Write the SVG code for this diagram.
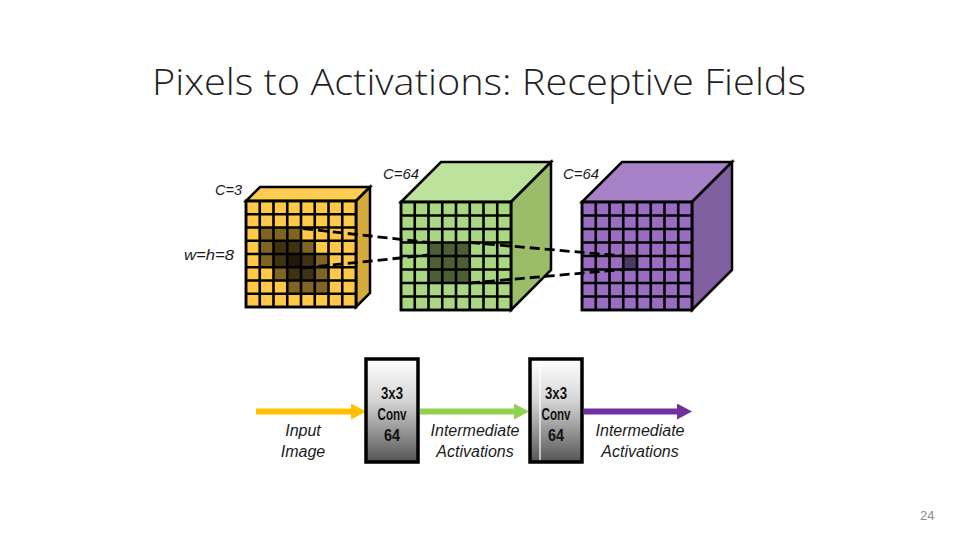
<svg xmlns="http://www.w3.org/2000/svg" width="960" height="540" viewBox="0 0 960 540">
<style>
.title{font-family:"Open Sans","Liberation Sans",Arial,sans-serif;font-weight:300;font-size:36px;fill:#1f1f1f}
.lbl{font-family:"Liberation Sans",Arial,sans-serif;font-style:italic;font-size:16px;fill:#1a1a1a;text-anchor:middle}
.dim{font-family:"Liberation Sans",Arial,sans-serif;font-style:italic;font-size:15px;fill:#1a1a1a}
.conv{font-family:"Liberation Sans",Arial,sans-serif;font-weight:bold;font-size:17px;fill:#111;text-anchor:middle}
.edge{stroke:#000;stroke-width:2.5;stroke-linejoin:miter}
.grid{stroke:#000;stroke-width:2.6;fill:none}
.dash{stroke:#000;stroke-width:2.8;stroke-dasharray:10 5;fill:none}
.box{stroke:#000;stroke-width:3.5;fill:url(#grad)}
.page{font-family:"Liberation Sans",Arial,sans-serif;font-size:13px;fill:#8c8c8c}
</style>
<defs>
<linearGradient id="grad" x1="0" y1="0" x2="0" y2="1">
<stop offset="0" stop-color="#ffffff"/>
<stop offset="0.4" stop-color="#d6d6d6"/>
<stop offset="1" stop-color="#555555"/>
</linearGradient>
<marker id="ahY" markerUnits="userSpaceOnUse" markerWidth="15" markerHeight="16" viewBox="0 0 15 16" refX="0" refY="8" orient="auto"><path d="M0,0 L15,8 L0,16 Z" fill="#FFC000"/></marker>
<marker id="ahG" markerUnits="userSpaceOnUse" markerWidth="15" markerHeight="16" viewBox="0 0 15 16" refX="0" refY="8" orient="auto"><path d="M0,0 L15,8 L0,16 Z" fill="#92D050"/></marker>
<marker id="ahP" markerUnits="userSpaceOnUse" markerWidth="15" markerHeight="16" viewBox="0 0 15 16" refX="0" refY="8" orient="auto"><path d="M0,0 L15,8 L0,16 Z" fill="#7030A0"/></marker>
</defs>
<rect width="960" height="540" fill="#ffffff"/>
<text class="title" x="152" y="95" textLength="654" lengthAdjust="spacingAndGlyphs">Pixels to Activations: Receptive Fields</text>

<g id="cube-input">
<polygon class="edge" points="246,201 260,187 370,187 356,201" fill="#FCCB52"/>
<polygon class="edge" points="356,201 370,187 370,293 356,307" fill="#D7AA3E"/>
<rect class="edge" x="246" y="201" width="110" height="106" fill="#FFC947"/>
<g fill="#000" fill-opacity="0.5">
<rect x="259.75" y="227.5" width="41.25" height="39.75"/>
<rect x="273.5" y="240.75" width="41.25" height="39.75"/>
<rect x="287.25" y="254" width="41.25" height="39.75"/>
</g>
<path class="grid" d="M259.75,201V307M273.5,201V307M287.25,201V307M301,201V307M314.75,201V307M328.5,201V307M342.25,201V307M246,214.25H356M246,227.5H356M246,240.75H356M246,254H356M246,267.25H356M246,280.5H356M246,293.75H356"/>
<rect x="246" y="201" width="110" height="106" fill="none" stroke="#000" stroke-width="2.5"/>
<text class="dim" x="215" y="195" textLength="27" lengthAdjust="spacingAndGlyphs">C=3</text>
<text class="dim" x="184" y="260" textLength="50" lengthAdjust="spacingAndGlyphs">w=h=8</text>
</g>

<g id="cube-act1">
<polygon class="edge" points="401,202 441,162 551,162 511,202" fill="#BDE29B"/>
<polygon class="edge" points="511,202 551,162 551,270 511,310" fill="#9BBD6A"/>
<rect class="edge" x="401" y="202" width="110" height="108" fill="#AAD781"/>
<rect x="428.5" y="242.5" width="41.25" height="40.5" fill="#4C5E33"/>
<path class="grid" d="M414.75,202V310M428.5,202V310M442.25,202V310M456,202V310M469.75,202V310M483.5,202V310M497.25,202V310M401,215.5H511M401,229H511M401,242.5H511M401,256H511M401,269.5H511M401,283H511M401,296.5H511"/>
<rect x="401" y="202" width="110" height="108" fill="none" stroke="#000" stroke-width="2.5"/>
<text class="dim" x="383" y="179" textLength="36" lengthAdjust="spacingAndGlyphs">C=64</text>
</g>

<g id="cube-act2">
<polygon class="edge" points="582,202 622,162 732,162 692,202" fill="#A882C9"/>
<polygon class="edge" points="692,202 732,162 732,270 692,310" fill="#8060A0"/>
<rect class="edge" x="582" y="202" width="110" height="108" fill="#9A6CC2"/>
<rect x="623.25" y="256" width="13.75" height="13.5" fill="#4A3A62"/>
<path class="grid" d="M595.75,202V310M609.5,202V310M623.25,202V310M637,202V310M650.75,202V310M664.5,202V310M678.25,202V310M582,215.5H692M582,229H692M582,242.5H692M582,256H692M582,269.5H692M582,283H692M582,296.5H692"/>
<rect x="582" y="202" width="110" height="108" fill="none" stroke="#000" stroke-width="2.5"/>
<text class="dim" x="563" y="179" textLength="36" lengthAdjust="spacingAndGlyphs">C=64</text>
</g>

<g id="connectors">
<path class="dash" d="M303,228.5 L428.5,242.5"/>
<path class="dash" d="M303,268 L429,255"/>
<path class="dash" d="M470,242.5 L623.25,256"/>
<path class="dash" d="M470,283 L623.25,269.5"/>
<line x1="256" y1="411.5" x2="351" y2="411.5" stroke="#FFC000" stroke-width="6" marker-end="url(#ahY)"/>
<line x1="420" y1="411.5" x2="514" y2="411.5" stroke="#92D050" stroke-width="6" marker-end="url(#ahG)"/>
<line x1="584" y1="411.5" x2="677" y2="411.5" stroke="#7030A0" stroke-width="6" marker-end="url(#ahP)"/>
</g>

<g id="conv1">
<rect class="box" x="366" y="359" width="52" height="103"/>
<text class="conv" x="392" y="399" textLength="22" lengthAdjust="spacingAndGlyphs">3x3</text>
<text class="conv" x="392" y="420" textLength="29" lengthAdjust="spacingAndGlyphs">Conv</text>
<text class="conv" x="392" y="441" textLength="16" lengthAdjust="spacingAndGlyphs">64</text>
</g>

<g id="conv2">
<rect class="box" x="530" y="359" width="52" height="103"/>
<line x1="540" y1="361" x2="540" y2="460" stroke="#ffffff" stroke-width="1.2"/>
<text class="conv" x="556" y="399" textLength="22" lengthAdjust="spacingAndGlyphs">3x3</text>
<text class="conv" x="556" y="420" textLength="29" lengthAdjust="spacingAndGlyphs">Conv</text>
<text class="conv" x="556" y="441" textLength="16" lengthAdjust="spacingAndGlyphs">64</text>
</g>

<g id="labels">
<text class="lbl" x="303" y="436">Input</text>
<text class="lbl" x="303" y="457">Image</text>
<text class="lbl" x="475" y="436">Intermediate</text>
<text class="lbl" x="475" y="457">Activations</text>
<text class="lbl" x="640" y="436">Intermediate</text>
<text class="lbl" x="640" y="457">Activations</text>
</g>

<text class="page" x="920" y="520">24</text>
</svg>
